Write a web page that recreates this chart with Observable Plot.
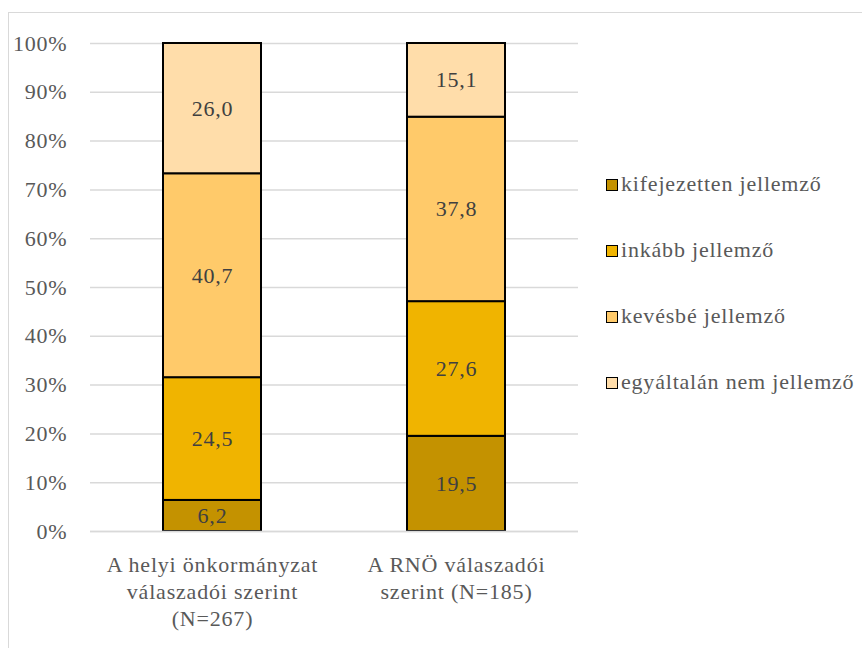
<!DOCTYPE html>
<html>
<head>
<meta charset="utf-8">
<script src="https://cdn.jsdelivr.net/npm/d3@7"></script>
<script src="https://cdn.jsdelivr.net/npm/@observablehq/plot@0.6"></script>
<style>
  body { margin: 0; background: #fff; }
  #wrap { position: relative; width: 862px; height: 648px; overflow: hidden; }
  #frame { position: absolute; left: 8px; top: 12px; width: 900px; height: 700px; border: 1px solid #d9d9d9; box-sizing: border-box; }
  #chart { position: absolute; left: 0; top: 0; }
  #legend { position: absolute; left: 606px; top: 0; }
  .item { position: absolute; white-space: nowrap; font-size: 22px; letter-spacing: 0.8px; color: #595959; }
  .sw { display: inline-block; width: 10px; height: 10px; border: 1.5px solid #000; margin-right: 3px; vertical-align: 0px; }
  svg text { letter-spacing: 0.8px; }
</style>
</head>
<body>
<div id="wrap">
  <div id="frame"></div>
  <div id="chart"></div>
  <div id="legend"></div>
</div>
<script>
const categories = ["A helyi önkormányzat\nválaszadói szerint\n(N=267)", "A RNÖ válaszadói\nszerint (N=185)"];
const seriesNames = ["kifejezetten jellemző", "inkább jellemző", "kevésbé jellemző", "egyáltalán nem jellemző"];
const colors = ["#C49200", "#F0B400", "#FFCA6A", "#FFDDAA"];
const valuesHelyi = [6.2, 24.5, 40.7, 26.0];
const valuesRno = [19.5, 27.6, 37.8, 15.1];
const yTicks = [0, 0.1, 0.2, 0.3, 0.4, 0.5, 0.6, 0.7, 0.8, 0.9, 1.0];

const FONT = "Tinos, 'Liberation Serif', 'Times New Roman', Times, 'Noto Serif', 'DejaVu Serif', serif";
document.body.style.fontFamily = FONT;

const data = [];
[valuesHelyi, valuesRno].forEach((vals, ci) => {
  vals.forEach((v, si) => data.push({cat: categories[ci], series: seriesNames[si], value: v}));
});
const fmt = v => v.toFixed(1).replace(".", ",");

const stackOpts = {x: "cat", y: "value", z: "series", order: seriesNames, offset: "normalize"};

const chart = Plot.plot({
  width: 862,
  height: 648,
  marginTop: 43,
  marginBottom: 117,
  marginLeft: 90,
  marginRight: 284,
  style: {fontFamily: FONT, background: "transparent"},
  x: {domain: categories, paddingInner: 0.6, paddingOuter: 0.3, label: null},
  y: {domain: [0, 1], ticks: yTicks, label: null},
  color: {domain: seriesNames, range: colors},
  marks: [
    Plot.gridY(yTicks, {stroke: "#d9d9d9", strokeOpacity: 1, strokeWidth: 1.5}),
    Plot.barY(data, Plot.stackY({...stackOpts, fill: "series", stroke: "#000", strokeWidth: 2})),
    Plot.text(data, Plot.stackY({...stackOpts, y: "value", text: d => fmt(d.value), fill: "#404040", fontSize: 22, fontFamily: FONT})),
    Plot.axisY(yTicks, {tickSize: 0, tickPadding: 23, tickFormat: d => Math.round(d * 100) + "%", fontSize: 22, fill: "#595959", fontFamily: FONT}),
    Plot.axisX({tickSize: 0, tickPadding: 21, fontSize: 22, fill: "#595959", lineHeight: 1.23, label: null, fontFamily: FONT}),
    Plot.ruleY([0], {stroke: "#d9d9d9", strokeWidth: 1.5})
  ]
});
document.getElementById("chart").appendChild(chart);

const legend = document.getElementById("legend");
const legendTops = [171, 237, 303, 369];
seriesNames.forEach((name, i) => {
  const item = document.createElement("div");
  item.className = "item";
  item.style.top = legendTops[i] + "px";
  item.innerHTML = `<span class="sw" style="background:${colors[i]}"></span>${name}`;
  legend.appendChild(item);
});
</script>
</body>
</html>
